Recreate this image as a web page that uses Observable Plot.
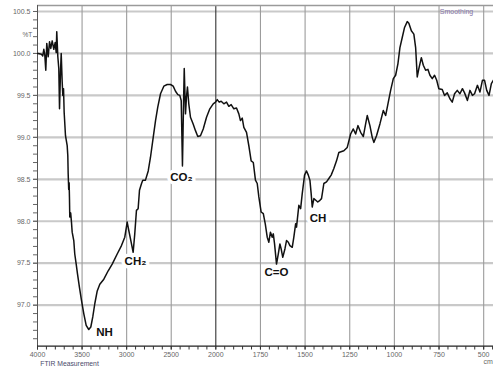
<!DOCTYPE html>
<html><head><meta charset="utf-8">
<script src="https://cdn.jsdelivr.net/npm/d3@7"></script>
<script src="https://cdn.jsdelivr.net/npm/@observablehq/plot@0.6"></script>
<style>html,body{margin:0;padding:0;background:#fff}svg{display:block}</style>
</head><body><div id="chart"></div>
<script>
// FTIR spectrum
const wavenumber = [4000,3992,3955,3941,3929,3918,3907,3896,3880,3865,3851,3835,3817,3802,3790,3784,3772,3761,3753,3742,3734,3723,3716,3708,3701,3686,3667,3660,3656,3650,3645,3641,3638,3628,3619,3611,3593,3582,3566,3551,3529,3507,3481,3454,3425,3402,3380,3357,3330,3301,3256,3207,3162,3106,3058,3021,2994,2976,2953,2927,2909,2890,2871,2856,2833,2819,2789,2758,2733,2702,2676,2651,2620,2583,2545,2508,2478,2452,2426,2404,2388,2374,2362,2354,2340,2329,2318,2303,2284,2254,2228,2202,2172,2141,2104,2067,2029,2003,1992,1981,1970,1955,1940,1927,1914,1899,1884,1871,1862,1852,1843,1828,1815,1802,1790,1778,1768,1759,1746,1734,1723,1712,1703,1694,1684,1678,1671,1660,1650,1641,1634,1625,1613,1604,1594,1585,1572,1563,1553,1548,1535,1525,1516,1503,1492,1482,1473,1466,1460,1451,1440,1429,1417,1408,1395,1380,1367,1354,1339,1324,1311,1283,1264,1245,1230,1217,1204,1189,1174,1161,1152,1137,1124,1115,1100,1081,1062,1049,1036,1021,1006,993,980,969,956,943,928,919,905,891,881,872,863,849,838,825,812,801,788,775,763,751,732,719,704,689,676,663,648,633,619,607,591,577,563,551,535,521,507,495,483,470,457,446];
const transmittance = [100.00,100.00,99.99,99.97,100.05,99.98,99.80,100.12,99.96,100.14,100.06,100.15,100.05,100.13,100.01,100.26,99.96,99.82,99.34,99.78,100.00,99.66,99.50,99.58,99.30,99.02,98.90,98.78,98.57,98.38,98.46,98.25,98.05,98.10,97.99,97.87,97.77,97.61,97.49,97.37,97.21,97.06,96.90,96.76,96.71,96.74,96.86,97.02,97.17,97.25,97.31,97.41,97.49,97.61,97.71,97.81,97.99,97.89,97.77,97.63,97.85,98.13,98.15,98.37,98.45,98.49,98.49,98.60,98.76,99.00,99.20,99.36,99.52,99.61,99.63,99.63,99.61,99.55,99.51,99.50,99.44,98.66,99.40,99.82,99.28,99.48,99.60,99.40,99.24,99.16,99.08,99.01,99.02,99.10,99.24,99.34,99.40,99.42,99.45,99.42,99.43,99.40,99.42,99.37,99.39,99.34,99.35,99.28,99.20,99.23,99.12,99.06,98.90,98.72,98.70,98.49,98.45,98.29,98.11,98.09,97.97,97.81,97.75,97.87,97.81,97.85,97.73,97.49,97.61,97.73,97.67,97.57,97.67,97.77,97.75,97.71,97.69,97.81,97.97,97.93,98.19,98.15,98.33,98.55,98.60,98.55,98.49,98.33,98.17,98.27,98.25,98.23,98.25,98.27,98.45,98.47,98.51,98.55,98.63,98.72,98.82,98.84,98.88,99.04,99.10,99.04,99.14,99.06,99.01,99.16,99.26,99.14,99.00,98.94,99.02,99.16,99.32,99.26,99.40,99.56,99.70,99.74,99.88,100.07,100.19,100.31,100.38,100.36,100.27,100.23,100.07,99.72,99.82,99.95,99.86,99.80,99.81,99.74,99.70,99.74,99.68,99.58,99.57,99.50,99.53,99.46,99.42,99.52,99.56,99.52,99.58,99.53,99.44,99.56,99.50,99.52,99.62,99.54,99.68,99.68,99.56,99.50,99.64,99.68];

const xTicks = [4000,3500,3000,2500,2000,1750,1500,1250,1000,750,500];
const xMinorTicks = [4000,3900,3800,3700,3600,3500,3400,3300,3200,3100,3000,2900,2800,2700,2600,2500,2400,2300,2200,2100,2000,1950,1900,1850,1800,1750,1700,1650,1600,1550,1500,1450,1400,1350,1300,1250,1200,1150,1100,1050,1000,950,900,850,800,750,700,650,600,550,500,450];
const yTicks = [97.0,97.5,98.0,98.5,99.0,99.5,100.0,100.5];
const yMinorTicks = [96.6,96.7,96.8,96.9,97.0,97.1,97.2,97.3,97.4,97.5,97.6,97.7,97.8,97.9,98.0,98.1,98.2,98.3,98.4,98.5,98.6,98.7,98.8,98.9,99.0,99.1,99.2,99.3,99.4,99.5,99.6,99.7,99.8,99.9,100.0,100.1,100.2,100.3,100.4,100.5];

const peakNames = ["NH","CH₂","CO₂","C=O","CH"];
const peakWavenumber = [3248,2901,2385,1660,1427];
const peakTransmittance = [96.68,97.52,98.52,97.39,98.03];

const spectrum = wavenumber.map((w, i) => ({w, t: transmittance[i]}));
const peaks = peakNames.map((name, i) => ({name, w: peakWavenumber[i], t: peakTransmittance[i]}));
const xGrid = xTicks.filter(d => d !== 4000 && d !== 2000);

const xDomain = [4000, 2000, 445];
const yDomain = [96.511, 100.5715];

const chart = Plot.plot({
  width: 493,
  height: 368,
  marginLeft: 37, marginRight: 0, marginTop: 5, marginBottom: 22,
  x: {type: "linear", domain: xDomain, range: [37, 215.3, 493], label: null},
  y: {type: "linear", domain: yDomain, range: [345.7, 5], label: null},
  style: {fontFamily: "'Liberation Sans', Arial, sans-serif", fontSize: "7px", color: "#555", background: "#fff"},
  marks: [
    Plot.ruleY(yTicks, {stroke: "#c9c9c9", strokeWidth: 2.2}),
    Plot.ruleX(xGrid, {stroke: "#9c9c9c", strokeWidth: 1.1}),
    Plot.ruleX([2000], {stroke: "#333", strokeWidth: 1.1}),
    Plot.ruleY([yDomain[1]], {stroke: "#9a9a9a", strokeWidth: 1.6}),
    Plot.ruleX([4000], {stroke: "#555", strokeWidth: 1}),
    Plot.line(spectrum, {x: "w", y: "t", stroke: "#111", strokeWidth: 1.5, curve: "linear"}),
    Plot.text(peaks, {x: "w", y: "t", text: "name", fontSize: 11.5, fontWeight: "bold", fill: "#111",
      stroke: "white", strokeWidth: 7, paintOrder: "stroke", fontFamily: "'Liberation Sans', Arial, sans-serif"}),
    Plot.ruleY([yDomain[0]], {stroke: "#222", strokeWidth: 1.2}),
    Plot.axisX({ticks: xMinorTicks, tickSize: 3.5, text: null, stroke: "#333", label: null}),
    Plot.axisX({ticks: xTicks, tickSize: 3.5, tickPadding: 2.5, tickFormat: d => String(d), label: null, fill: "#666", fontSize: 7, stroke: "#333"}),
    Plot.axisY({ticks: yMinorTicks, tickSize: 4, text: null, stroke: "#666", label: null}),
    Plot.axisY({ticks: yTicks, tickSize: 4, tickPadding: 3, tickFormat: d => d.toFixed(1), label: null, fill: "#666", fontSize: 7, stroke: "#666"}),
    Plot.text(["%T"], {frameAnchor: "top-left", dx: -15, dy: 27, fill: "#666", fontSize: 6.5}),
    Plot.text(["Smoothing"], {frameAnchor: "top-right", dx: -37, dy: 3.5, fill: "#8474a6", fontSize: 7, textAnchor: "middle"}),
    Plot.text(["FTIR Measurement"], {frameAnchor: "bottom-left", dx: 32, dy: 19.3, fill: "#4a4a6a", fontSize: 6.8, textAnchor: "middle"}),
    Plot.text(["cm"], {frameAnchor: "bottom-right", dx: -10, dy: 17.5, fill: "#666", fontSize: 7, textAnchor: "start"})
  ]
});
document.getElementById("chart").appendChild(chart);
</script>
</body></html>
